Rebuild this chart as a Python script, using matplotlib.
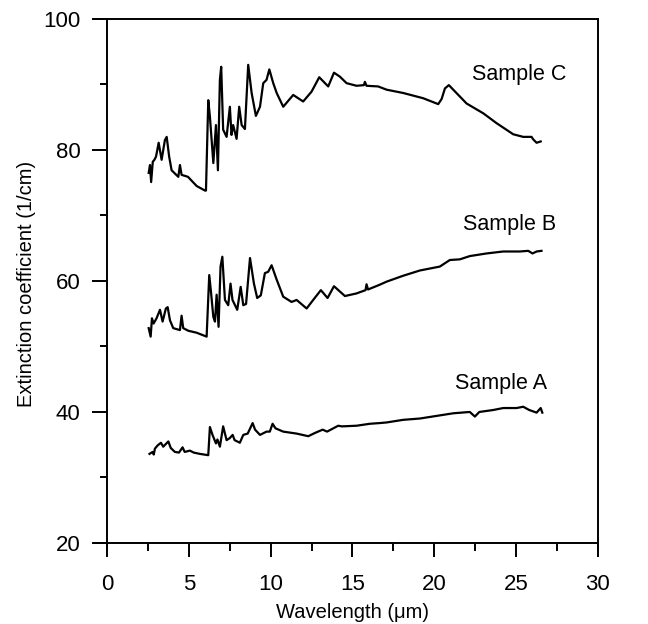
import matplotlib
matplotlib.use("Agg")
import matplotlib.pyplot as plt
from matplotlib.ticker import MultipleLocator

plt.rcParams['font.family'] = ['Liberation Sans', 'DejaVu Sans']

# Sample C
c_x = [2.55, 2.63, 2.7, 2.8, 2.9, 3.0, 3.16, 3.34, 3.54, 3.65, 3.8, 3.95, 4.36, 4.46, 4.56, 4.95,
       5.48, 5.99, 6.05, 6.19, 6.29, 6.5, 6.66, 6.78, 6.9, 6.98, 7.1, 7.31, 7.51, 7.61, 7.71, 7.92,
       8.08, 8.23, 8.43, 8.63, 8.84, 9.1, 9.35, 9.55, 9.75, 9.92, 10.16, 10.37, 10.77, 11.38, 11.99,
       12.5, 12.97, 13.52, 13.87, 14.23, 14.64, 15.25, 15.7, 15.76, 15.86, 16.57, 17.09, 18.1,
       19.32, 19.83, 20.24, 20.45, 20.65, 20.89, 21.16, 21.97, 22.99, 23.8, 24.82, 25.43, 25.94,
       26.05, 26.25, 26.5]
c_y = [76.5, 77.7, 75.1, 78.2, 78.5, 79.0, 81.1, 78.5, 81.5, 82.0, 79.0, 76.9, 75.9, 77.7, 76.2, 75.9,
       74.5, 73.8, 73.8, 87.6, 85.1, 78.0, 83.8, 76.9, 90.7, 92.7, 83.1, 82.0, 86.6, 82.3, 83.8, 81.7,
       86.6, 83.8, 83.2, 93.0, 88.7, 85.2, 86.6, 90.2, 90.7, 92.3, 90.2, 88.7, 86.6, 88.4, 87.4,
       88.9, 91.1, 89.7, 91.8, 91.2, 90.2, 89.8, 89.9, 90.4, 89.8, 89.7, 89.2, 88.7,
       87.9, 87.4, 87.0, 87.8, 89.4, 89.9, 89.2, 87.1, 85.6, 84.1, 82.4, 82.0, 82.0,
       81.6, 81.1, 81.3]

# Sample B
b_x = [2.55, 2.67, 2.75, 2.85, 3.03, 3.24, 3.4, 3.6, 3.71, 3.85, 4.05, 4.46, 4.56, 4.66, 4.97,
       5.48, 6.09, 6.25, 6.35, 6.5, 6.6, 6.7, 6.82, 6.94, 7.05, 7.21, 7.41, 7.55, 7.67, 7.96,
       8.17, 8.33, 8.5, 8.74, 8.98, 9.18, 9.4, 9.65, 9.85, 10.06, 10.37, 10.77, 11.28, 11.59,
       12.2, 12.6, 13.07, 13.48, 13.87, 14.54, 15.25, 15.8, 15.86, 15.95, 16.64, 17.09, 18.1,
       19.12, 20.34, 20.95, 21.56, 22.17, 23.19, 24.21, 25.23, 25.74, 26.0, 26.25, 26.55]
b_y = [52.8, 51.5, 54.3, 53.5, 54.3, 55.6, 53.8, 55.8, 56.0, 54.0, 52.8, 52.5, 54.7, 52.8, 52.4,
       52.1, 51.5, 60.9, 58.5, 54.5, 53.8, 57.9, 53.0, 62.2, 63.7, 57.1, 56.3, 59.6, 57.1, 55.6,
       59.1, 56.3, 56.5, 63.5, 59.6, 57.4, 57.8, 61.2, 61.4, 62.4, 60.2, 57.6, 56.8, 57.1,
       55.8, 57.1, 58.6, 57.4, 59.2, 57.7, 58.1, 58.6, 59.5, 58.7, 59.4, 59.9, 60.8,
       61.6, 62.2, 63.2, 63.3, 63.8, 64.2, 64.5, 64.5, 64.6, 64.2, 64.5, 64.6]

# Sample A
a_x = [2.6, 2.79, 2.86, 2.93, 3.1, 3.3, 3.44, 3.75, 3.9, 4.15, 4.4, 4.62, 4.75, 5.07, 5.3,
       5.68, 6.19, 6.29, 6.45, 6.66, 6.75, 6.9, 7.1, 7.31, 7.5, 7.68, 7.8, 8.12, 8.33, 8.6,
       8.9, 9.05, 9.35, 9.75, 9.95, 10.12, 10.3, 10.77, 11.59, 12.3, 12.71, 13.18, 13.45,
       14.13, 14.35, 15.25, 16.07, 16.64, 17.09, 18.1, 19.12, 20.14, 21.16, 22.17, 22.48,
       22.75, 23.6, 24.21, 25.03, 25.43, 25.8, 26.25, 26.5, 26.6]
a_y = [33.6, 33.9, 33.5, 34.4, 34.9, 35.3, 34.7, 35.5, 34.5, 33.9, 33.8, 34.6, 33.9, 34.1, 33.8,
       33.6, 33.4, 37.7, 36.5, 35.2, 35.8, 34.7, 37.8, 35.7, 36.0, 36.5, 35.7, 35.3, 36.5, 36.7,
       38.3, 37.3, 36.5, 37.0, 37.0, 38.2, 37.5, 37.0, 36.7, 36.3, 36.8, 37.3, 37.0,
       37.9, 37.8, 37.9, 38.2, 38.3, 38.4, 38.8, 39.0, 39.4, 39.8, 40.0, 39.3,
       40.0, 40.3, 40.6, 40.6, 40.8, 40.3, 39.9, 40.6, 39.9]

labels = ["Sample C", "Sample B", "Sample A"]
label_x = [22.3, 21.75, 21.25]
label_y = [91.5, 68.6, 44.3]

fig = plt.figure(figsize=(6.48, 6.24), dpi=100)
ax = fig.add_axes([0.1466, 0.1202, 0.7762, 0.8494])

for xs, ys in [(c_x, c_y), (b_x, b_y), (a_x, a_y)]:
    ax.plot(xs, ys, color='black', lw=1.6, solid_joinstyle='round')

for t, lx, ly in zip(labels, label_x, label_y):
    ax.text(lx, ly, t, fontsize=15.5, ha='left', va='center')

ax.set_xlim(-0.73, 30)
ax.set_ylim(19.08, 100)
ax.spines['left'].set_position(('data', 0))
ax.spines['bottom'].set_position(('data', 20))
for s in ax.spines.values():
    s.set_linewidth(1.4)

ax.xaxis.set_major_locator(MultipleLocator(5))
ax.xaxis.set_minor_locator(MultipleLocator(2.5))
ax.yaxis.set_major_locator(MultipleLocator(20))
ax.yaxis.set_minor_locator(MultipleLocator(10))
ax.tick_params(axis='x', which='major', direction='out', length=10, width=1.4, pad=12, labelsize=16)
ax.tick_params(axis='x', which='minor', direction='out', length=6, width=1.4)
ax.tick_params(axis='y', which='major', direction='out', length=11, width=1.4, pad=8, labelsize=16)
ax.tick_params(axis='y', which='minor', direction='out', length=5, width=1.4)

ax.set_xlabel("Wavelength (μm)", fontsize=14.5, labelpad=3)
ax.set_ylabel("Extinction coefficient (1/cm)", fontsize=14.5, labelpad=5)
ax.xaxis.set_label_coords(0.512, -0.102)

fig.savefig("out.png", dpi=100)
